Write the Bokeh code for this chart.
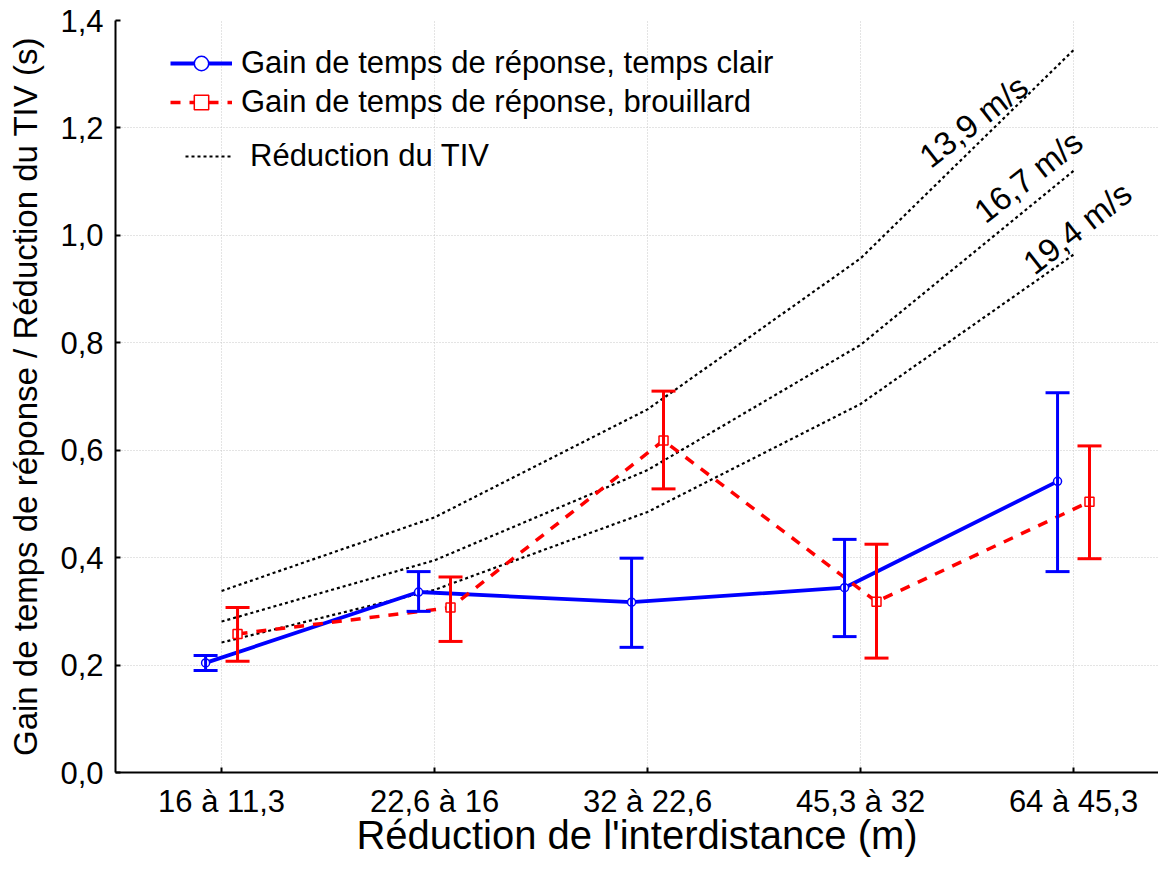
from math import radians
from bokeh.plotting import figure
from bokeh.models import (Legend, LegendItem, FixedTicker, Range1d, ColumnDataSource,
                          Whisker, TeeHead)
from bokeh.core.properties import value
from bokeh.embed import file_html
from bokeh.resources import INLINE

# ---------------- data ----------------
categories = ["16 à 11,3", "22,6 à 16", "32 à 22,6", "45,3 à 32", "64 à 45,3"]

clair_mean = [0.204, 0.336, 0.317, 0.344, 0.542]
clair_low = [0.190, 0.300, 0.233, 0.253, 0.374]
clair_high = [0.218, 0.374, 0.399, 0.434, 0.707]

brouillard_mean = [0.258, 0.307, 0.618, 0.318, 0.504]
brouillard_low = [0.207, 0.244, 0.528, 0.213, 0.398]
brouillard_high = [0.307, 0.364, 0.710, 0.425, 0.608]

tiv_labels = ["13,9 m/s", "16,7 m/s", "19,4 m/s"]
tiv_139 = [0.338, 0.475, 0.676, 0.957, 1.345]
tiv_167 = [0.281, 0.395, 0.563, 0.796, 1.120]
tiv_194 = [0.242, 0.340, 0.485, 0.686, 0.964]

y_ticks = [0.0, 0.2, 0.4, 0.6, 0.8, 1.0, 1.2, 1.4]
y_tick_labels = ["0,0", "0,2", "0,4", "0,6", "0,8", "1,0", "1,2", "1,4"]

legend_labels = ["Gain de temps de réponse, temps clair",
                 "Gain de temps de réponse, brouillard",
                 "Réduction du TIV"]
x_title = "Réduction de l'interdistance (m)"
y_title = "Gain de temps de réponse / Réduction du TIV (s)"

# ---------------- layout / style ----------------
FONT_NAME = "Liberation Sans"
FONT = value(FONT_NAME)
BLUE = "#0000ff"
RED = "#ff0000"
OFFSET = 0.075            # horizontal shift of the two series around each category
label_pos_x = [3.296, 3.554, 3.784]   # anchors of the rotated speed labels
label_pos_y = [1.140, 1.037, 0.941]
LABEL_ANGLE = radians(38)

xs = list(range(len(categories)))
x_clair = [x - OFFSET for x in xs]
x_brouil = [x + OFFSET for x in xs]

p = figure(width=1158, height=859, output_backend="svg", toolbar_location=None,
           x_range=Range1d(-0.498, 4.399), y_range=Range1d(0, 1.4),
           min_border_left=115, min_border_right=0, min_border_top=20,
           min_border_bottom=86)
p.outline_line_color = None
p.background_fill_color = "white"

# axes
for ax in (p.xaxis[0], p.yaxis[0]):
    ax.axis_line_width = 2
    ax.axis_line_color = "black"
    ax.major_tick_in = 5
    ax.major_tick_out = 0
    ax.major_tick_line_width = 2
    ax.minor_tick_line_color = None
    ax.major_label_text_font = FONT_NAME
    ax.major_label_text_font_size = "31px"
    ax.major_label_text_color = "black"
    ax.axis_label_text_font = FONT_NAME
    ax.axis_label_text_font_style = "normal"
    ax.axis_label_text_color = "black"

p.xaxis.ticker = FixedTicker(ticks=xs)
p.xaxis.major_label_overrides = {x: c for x, c in zip(xs, categories)}
p.xaxis.major_label_standoff = 11
p.xaxis.axis_label = x_title
p.xaxis.axis_label_text_font_size = "40px"
p.xaxis.axis_label_standoff = -9

p.yaxis.ticker = FixedTicker(ticks=y_ticks)
p.yaxis.major_label_overrides = {t: l for t, l in zip(y_ticks, y_tick_labels)}
p.yaxis.major_label_standoff = 12
p.yaxis.axis_label = y_title
p.yaxis.axis_label_text_font_size = "33px"
p.yaxis.axis_label_standoff = 13

# grid
for g in (p.xgrid[0], p.ygrid[0]):
    g.grid_line_color = "#c8c8c8"
    g.grid_line_dash = "1 2"
    g.grid_line_width = 1
p.xgrid.ticker = FixedTicker(ticks=xs)
p.ygrid.ticker = FixedTicker(ticks=y_ticks)

# TIV dotted curves
tiv_renderers = []
for vals in (tiv_139, tiv_167, tiv_194):
    r = p.line(xs, vals, line_color="black", line_width=2.2, line_dash="3 3")
    tiv_renderers.append(r)

p.text(x=label_pos_x, y=label_pos_y, text=tiv_labels, angle=LABEL_ANGLE,
       text_font=FONT, text_font_size="33px", text_color="black",
       text_align="left", text_baseline="alphabetic")

# error bars
src_c = ColumnDataSource(dict(x=x_clair, y=clair_mean, lo=clair_low, hi=clair_high))
src_b = ColumnDataSource(dict(x=x_brouil, y=brouillard_mean, lo=brouillard_low, hi=brouillard_high))

for src, col in ((src_c, BLUE), (src_b, RED)):
    w = Whisker(source=src, base="x", lower="lo", upper="hi", dimension="height",
                line_color=col, line_width=3, level="glyph",
                upper_head=TeeHead(size=24, line_color=col, line_width=3),
                lower_head=TeeHead(size=24, line_color=col, line_width=3))
    p.add_layout(w)

# series
l_c = p.line("x", "y", source=src_c, line_color=BLUE, line_width=3.8)
s_c = p.scatter("x", "y", source=src_c, marker="circle", size=8, fill_color="white",
                line_color=BLUE, line_width=1.5)
l_b = p.line("x", "y", source=src_b, line_color=RED, line_width=3.5, line_dash="10 9")
s_b = p.scatter("x", "y", source=src_b, marker="square", size=9, fill_color="white",
                line_color=RED, line_width=1.5)

# legends
leg1 = Legend(items=[LegendItem(label=legend_labels[0], renderers=[l_c, s_c]),
                     LegendItem(label=legend_labels[1], renderers=[l_b, s_b])],
              location=(55, 652), padding=0, margin=0, spacing=3,
              glyph_width=62, glyph_height=36, label_height=36, label_standoff=9,
              label_text_font=FONT_NAME, label_text_font_size="31px",
              label_text_color="black",
              background_fill_alpha=0, border_line_alpha=0)
leg2 = Legend(items=[LegendItem(label=legend_labels[2], renderers=[tiv_renderers[0]])],
              location=(70, 598), padding=0, margin=0,
              glyph_width=47, glyph_height=36, label_height=36, label_standoff=18,
              label_text_font=FONT_NAME, label_text_font_size="31px",
              label_text_color="black",
              background_fill_alpha=0, border_line_alpha=0)
p.add_layout(leg1)
p.add_layout(leg2)

open("out.html", "w").write(file_html(p, INLINE))
